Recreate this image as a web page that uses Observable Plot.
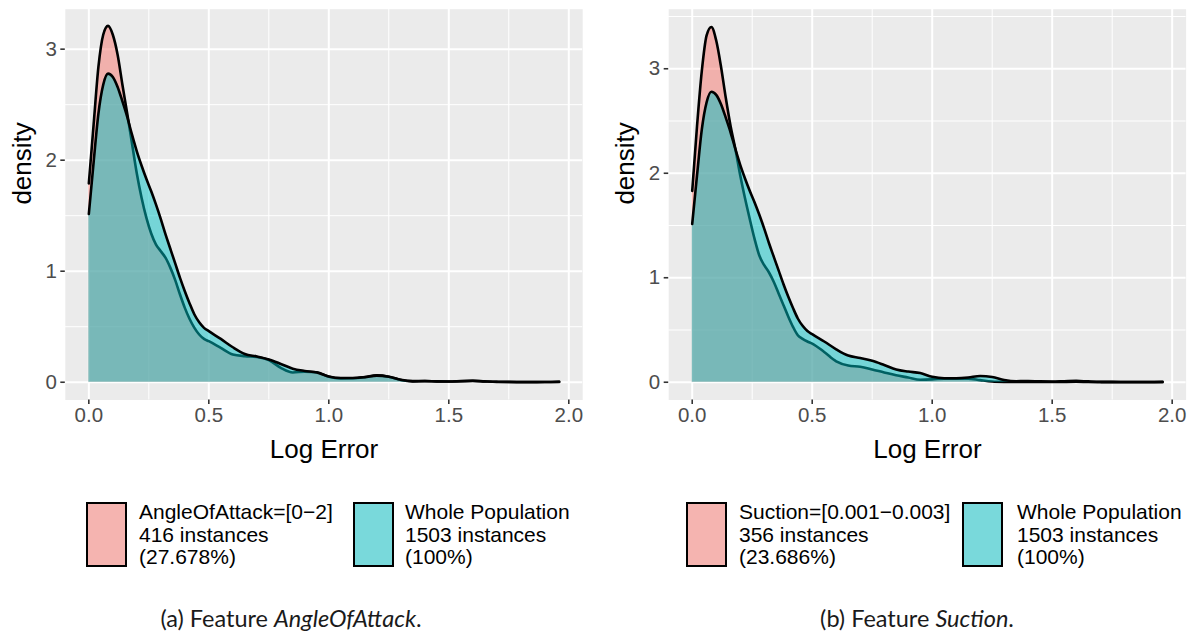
<!DOCTYPE html>
<html>
<head>
<meta charset="utf-8">
<script src="https://cdn.jsdelivr.net/npm/d3@7"></script>
<script src="https://cdn.jsdelivr.net/npm/@observablehq/plot@0.6"></script>
<style>
  html, body { margin: 0; padding: 0; background: #fff; }
  body { width: 1193px; height: 635px; position: relative; overflow: hidden;
         font-family: "Liberation Sans", Arial, Helvetica, sans-serif; }
  .panel { position: absolute; top: 0; }
  .key { position: absolute; box-sizing: border-box; border: 2px solid #000; }
  .keytext { position: absolute; font-size: 21px; line-height: 22.5px; color: #000; white-space: nowrap; }
  .caption { position: absolute; font-family: Lato, "Open Sans", sans-serif; font-size: 23.5px; font-weight: 400;
             color: #1a1a1a; white-space: nowrap; transform: translateX(-50%); }
</style>
</head>
<body>
<div id="panelA" class="panel" style="left:0px"></div>
<div id="panelB" class="panel" style="left:600px"></div>
<script>
// Log Error grid on which the densities are evaluated
const logError = [0, 0.02, 0.04, 0.06, 0.08, 0.10, 0.12, 0.14, 0.16, 0.18, 0.20, 0.22, 0.24, 0.26, 0.28,
  0.30, 0.32, 0.34, 0.36, 0.38, 0.40, 0.42, 0.44, 0.46, 0.48, 0.50,
  0.55, 0.60, 0.65, 0.70, 0.75, 0.80, 0.85, 0.90, 0.95, 1.00,
  1.05, 1.10, 1.15, 1.20, 1.25, 1.30, 1.35, 1.40, 1.45, 1.50,
  1.55, 1.60, 1.65, 1.70, 1.75, 1.80, 1.85, 1.90, 1.96];

// Density of the whole population (1503 instances)
const wholePopulation = [1.515, 1.98, 2.42, 2.68, 2.78, 2.75, 2.66, 2.53, 2.39, 2.23, 2.08, 1.95, 1.83, 1.72, 1.60,
  1.47, 1.33, 1.20, 1.07, 0.94, 0.82, 0.71, 0.61, 0.54, 0.49, 0.46,
  0.39, 0.315, 0.255, 0.232, 0.205, 0.165, 0.122, 0.102, 0.088, 0.052,
  0.038, 0.038, 0.045, 0.060, 0.050, 0.022, 0.010, 0.011, 0.008, 0.007,
  0.010, 0.013, 0.008, 0.004, 0.003, 0.002, 0.002, 0.002, 0.004];

// Density of the subgroup AngleOfAttack=[0-2]
const angleOfAttack = [1.79, 2.32, 2.84, 3.13, 3.21, 3.13, 2.95, 2.68, 2.42, 2.15, 1.88, 1.66, 1.48, 1.34, 1.24,
  1.18, 1.12, 1.03, 0.92, 0.79, 0.67, 0.57, 0.49, 0.43, 0.39, 0.37,
  0.31, 0.25, 0.235, 0.228, 0.20, 0.13, 0.088, 0.095, 0.09, 0.05,
  0.035, 0.036, 0.046, 0.062, 0.050, 0.020, 0.008, 0.010, 0.007, 0.006,
  0.009, 0.012, 0.007, 0.003, 0.002, 0.001, 0.001, 0.002, 0.003];

// Density of the subgroup Suction=[0.001-0.003]
const suction = [1.83, 2.45, 2.98, 3.32, 3.40, 3.27, 3.02, 2.72, 2.45, 2.23, 1.98, 1.76, 1.56, 1.37, 1.21,
  1.12, 1.05, 0.96, 0.85, 0.74, 0.63, 0.53, 0.45, 0.415, 0.39, 0.37,
  0.29, 0.20, 0.16, 0.148, 0.122, 0.093, 0.066, 0.046, 0.024, 0.027,
  0.034, 0.035, 0.035, 0.020, 0.007, 0.003, 0.002, 0.003, 0.002, 0.002,
  0.003, 0.004, 0.002, 0.001, 0.001, 0.001, 0.001, 0.001, 0.001];

// Legend entries
const groupNamesA = ["AngleOfAttack=[0\u22122]", "Whole Population"];
const groupCountsA = [416, 1503];
const groupSharesA = ["27.678%", "100%"];
const groupNamesB = ["Suction=[0.001\u22120.003]", "Whole Population"];
const groupCountsB = [356, 1503];
const groupSharesB = ["23.686%", "100%"];

// Axis ticks
const xTicks = [0, 0.5, 1, 1.5, 2];
const xMinor = [0.25, 0.75, 1.25, 1.75];
const yTicks = [0, 1, 2, 3];
const yMinorA = [0.5, 1.5, 2.5];
const yMinorB = [0.5, 1.5, 2.5, 3.5];

const subsetColor = "#F8766D";
const wholeColor = "#00BFC4";

function densityPanel({subset, width, marginLeft, marginRight, yDomain, yMinor}) {
  const subsetRows = logError.map((x, i) => ({x, d: subset[i]}));
  const wholeRows = logError.map((x, i) => ({x, d: wholePopulation[i]}));
  const line = {x: "x", y: "d", curve: "monotone-x"};
  return Plot.plot({
    width, height: 470,
    marginTop: 8.7, marginBottom: 70.5, marginLeft, marginRight,
    x: {domain: [-0.098, 2.058]},
    y: {domain: yDomain},
    style: {fontFamily: "'Liberation Sans', Arial, Helvetica, sans-serif", fontSize: "20.5px", background: "transparent", overflow: "visible"},
    marks: [
      Plot.frame({fill: "#EBEBEB", stroke: null}),
      Plot.gridX(xMinor, {stroke: "#fff", strokeOpacity: 1, strokeWidth: 1}),
      Plot.gridY(yMinor, {stroke: "#fff", strokeOpacity: 1, strokeWidth: 1}),
      Plot.gridX(xTicks, {stroke: "#fff", strokeOpacity: 1, strokeWidth: 2}),
      Plot.gridY(yTicks, {stroke: "#fff", strokeOpacity: 1, strokeWidth: 2}),
      Plot.areaY(subsetRows, {...line, fill: subsetColor, fillOpacity: 0.5}),
      Plot.lineY(subsetRows, {...line, stroke: "#000", strokeWidth: 2.6}),
      Plot.areaY(wholeRows, {...line, fill: wholeColor, fillOpacity: 0.5}),
      Plot.lineY(wholeRows, {...line, stroke: "#000", strokeWidth: 2.6}),
      Plot.axisX(xTicks, {tickSize: 4.5, tickPadding: 3, tickFormat: d3.format(".1f"),
        stroke: "#333333", strokeWidth: 1.6, fill: "#4D4D4D", label: null}),
      Plot.axisY(yTicks, {tickSize: 4.5, tickPadding: 4, tickFormat: d3.format("d"),
        stroke: "#333333", strokeWidth: 1.6, fill: "#4D4D4D", label: null}),
      Plot.text(["Log Error"], {frameAnchor: "bottom", dy: 49.5, lineAnchor: "middle", fontSize: 26, fill: "#000"}),
      Plot.text(["density"], {frameAnchor: "left", dx: -43, rotate: -90, lineAnchor: "middle", fontSize: 26, fill: "#000"})
    ]
  });
}

document.getElementById("panelA").append(densityPanel({
  subset: angleOfAttack, width: 600, marginLeft: 64.8, marginRight: 17.8,
  yDomain: [-0.16, 3.36], yMinor: yMinorA
}));
document.getElementById("panelB").append(densityPanel({
  subset: suction, width: 593, marginLeft: 68.2, marginRight: 7.4,
  yDomain: [-0.17, 3.57], yMinor: yMinorB
}));

// Legend: swatches drawn with the same fills over the key background
const keyBg = "#F2F2F2";
function addLegend(names, counts, shares, positions) {
  const colors = [subsetColor, wholeColor];
  names.forEach((name, i) => {
    const p = positions[i];
    const key = document.createElement("div");
    key.className = "key";
    Object.assign(key.style, {left: p.key + "px", top: "502px", width: "41px", height: "65px",
      background: d3.interpolateRgb(keyBg, colors[i])(0.5)});
    document.body.append(key);
    const txt = document.createElement("div");
    txt.className = "keytext";
    Object.assign(txt.style, {left: p.text + "px", top: "501px"});
    txt.innerHTML = `${name}<br>${counts[i]} instances<br>(${shares[i]})`;
    document.body.append(txt);
  });
}
addLegend(groupNamesA, groupCountsA, groupSharesA, [{key: 86, text: 139}, {key: 353, text: 405}]);
addLegend(groupNamesB, groupCountsB, groupSharesB, [{key: 686, text: 739}, {key: 962, text: 1017}]);

// Sub-figure captions
function addCaption(prefix, feature, cx) {
  const c = document.createElement("div");
  c.className = "caption";
  Object.assign(c.style, {left: cx + "px", top: "604px"});
  c.innerHTML = `${prefix} Feature <i>${feature}</i>.`;
  document.body.append(c);
}
addCaption("(a)", "AngleOfAttack", 291);
addCaption("(b)", "Suction", 917);
</script>
</body>
</html>
